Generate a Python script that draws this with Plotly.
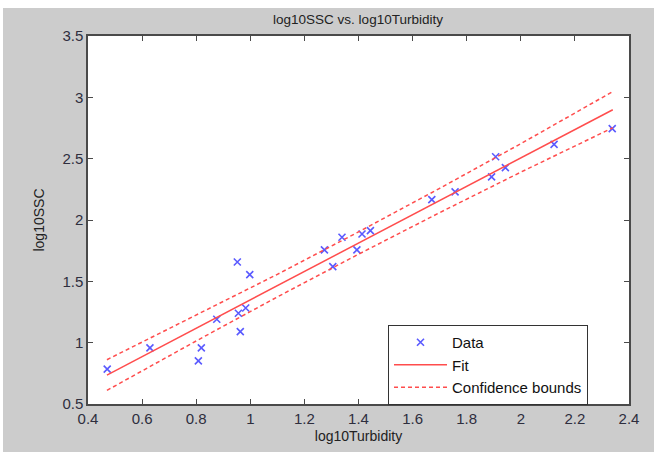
import plotly.graph_objects as go

# Data
turbidity = [0.471, 0.629, 0.819, 0.808, 0.876, 0.952, 0.998, 0.956, 0.983, 0.963,
             1.274, 1.339, 1.305, 1.394, 1.413, 1.444, 1.671, 1.757,
             1.892, 1.907, 1.943, 2.123, 2.338]
ssc = [0.784, 0.957, 0.957, 0.851, 1.191, 1.658, 1.555, 1.240, 1.283, 1.090,
       1.756, 1.859, 1.620, 1.756, 1.886, 1.913, 2.166, 2.229,
       2.351, 2.516, 2.427, 2.617, 2.745]

fit_x = [0.47, 0.8, 1.1, 1.4, 1.7, 2.0, 2.34]
fit_y = [0.736, 1.118, 1.465, 1.812, 2.159, 2.506, 2.899]
upper_y = [0.861, 1.222, 1.557, 1.903, 2.258, 2.622, 3.047]
lower_y = [0.611, 1.014, 1.373, 1.721, 2.060, 2.390, 2.752]

x_ticks = [0.4, 0.6, 0.8, 1.0, 1.2, 1.4, 1.6, 1.8, 2.0, 2.2, 2.4]
x_tick_labels = ["0.4", "0.6", "0.8", "1", "1.2", "1.4", "1.6", "1.8", "2", "2.2", "2.4"]
y_ticks = [0.5, 1.0, 1.5, 2.0, 2.5, 3.0, 3.5]
y_tick_labels = ["0.5", "1", "1.5", "2", "2.5", "3", "3.5"]

RED = "#ff4d4d"
BLUE = "#5a5aff"
FONT = "Liberation Sans, Arial, sans-serif"

fig = go.Figure()
fig.add_trace(go.Scatter(x=turbidity, y=ssc, mode="markers", name="Data",
                         marker=dict(symbol="x-thin", size=7, color=BLUE,
                                     line=dict(color=BLUE, width=1.6))))
fig.add_trace(go.Scatter(x=fit_x, y=fit_y, mode="lines", name="Fit",
                         line=dict(color=RED, width=1.5)))
fig.add_trace(go.Scatter(x=fit_x, y=upper_y, mode="lines", name="Confidence bounds",
                         line=dict(color=RED, width=1.5, dash="4px,3px")))
fig.add_trace(go.Scatter(x=fit_x, y=lower_y, mode="lines", name="Confidence bounds",
                         showlegend=False,
                         line=dict(color=RED, width=1.5, dash="4px,3px")))

# page offset (body margin): top 8, left 3
OX, OY = 3, 8
W, H = 654 - OX, 452 - OY
L, R, T, B = 88 - OX, 25, 36 - OY, 48
pw, ph = W - L - R, H - T - B

def px2paper_x(px):
    return (px - OX - L) / pw

def px2paper_y(py):
    return (H - B - (py - OY)) / ph

axis_common = dict(showline=True, linecolor="#4a4a4a", linewidth=1.5, mirror="ticks",
                   ticks="inside", ticklen=5, tickwidth=1, tickcolor="#4a4a4a",
                   showgrid=False, zeroline=False,
                   tickfont=dict(family=FONT, size=15, color="#2e2e3e"))

fig.update_layout(
    width=W, height=H,
    margin=dict(l=L, r=R, t=T, b=B, autoexpand=False),
    paper_bgcolor="#cccccc",
    plot_bgcolor="white",
    font=dict(family=FONT, size=14, color="#222222"),
    title=dict(text="log10SSC vs. log10Turbidity", x=px2paper_x(358), xref="paper",
               xanchor="center", y=1 - (19 - OY) / H, yanchor="middle",
               font=dict(family=FONT, size=13.5, color="#222222")),
    xaxis=dict(range=[0.4, 2.4], tickvals=x_ticks, ticktext=x_tick_labels,
               title=dict(text="log10Turbidity", standoff=5,
                          font=dict(family=FONT, size=14, color="#222222")),
               **axis_common),
    yaxis=dict(range=[0.5, 3.5], tickvals=y_ticks, ticktext=y_tick_labels,
               title=dict(text="log10SSC", standoff=14,
                          font=dict(family=FONT, size=14, color="#222222")),
               **axis_common),
    legend=dict(x=px2paper_x(388), y=px2paper_y(325), xanchor="left", yanchor="top",
                bgcolor="white", bordercolor="#333333", borderwidth=1,
                itemwidth=53, tracegroupgap=0,
                font=dict(family=FONT, size=15, color="#111111")),
    showlegend=True,
)

fig.write_html("out.html",
               post_script="document.body.style.margin='%dpx 0 0 %dpx';" % (OY, OX))
